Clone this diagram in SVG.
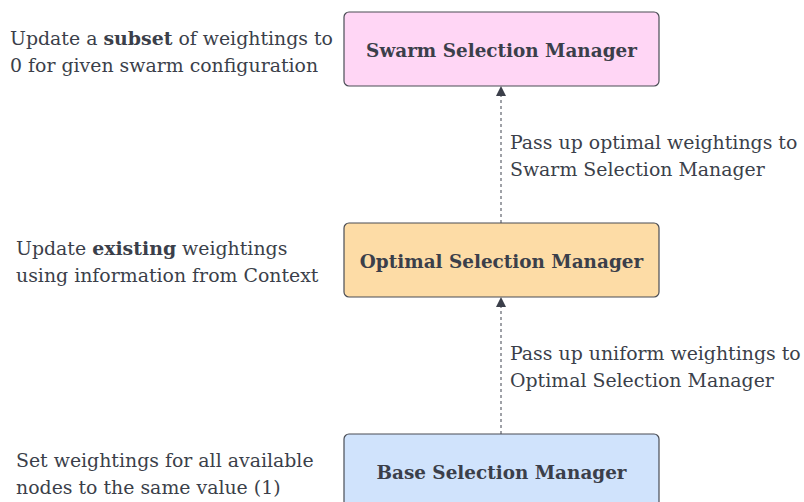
<svg xmlns="http://www.w3.org/2000/svg" width="804" height="502" viewBox="0 0 804 502">
  <style>
    text { font-family: "DejaVu Serif", "Liberation Serif", serif; fill: #3b3f4a; }
    .note { font-size: 18.9px; }
    .title { font-size: 18.4px; font-weight: bold; text-anchor: middle; }
    .box { stroke: #4a4d55; stroke-width: 1.2; }
    .link { stroke: #80838a; stroke-width: 1.5; stroke-dasharray: 3 3; fill: none; }
  </style>
  <defs>
    <marker id="arrow" viewBox="0 0 10 10" refX="9" refY="5" markerWidth="10" markerHeight="10" markerUnits="userSpaceOnUse" orient="auto">
      <path d="M0,0 L10,5 L0,10 z" fill="#3b3f4a"/>
    </marker>
  </defs>
  <rect width="804" height="502" fill="#ffffff"/>

  <g id="connectors">
    <line class="link" x1="501" y1="223" x2="501" y2="87" marker-end="url(#arrow)"/>
    <line class="link" x1="501" y1="434" x2="501" y2="298" marker-end="url(#arrow)"/>
    <text class="note" x="510" y="149">Pass up optimal weightings to</text>
    <text class="note" x="510" y="176">Swarm Selection Manager</text>
    <text class="note" x="510" y="360">Pass up uniform weightings to</text>
    <text class="note" x="510" y="387">Optimal Selection Manager</text>
  </g>

  <g id="swarm">
    <rect class="box" x="344" y="12" width="315" height="74" rx="5" fill="#ffd6f5"/>
    <text class="title" x="501.5" y="57">Swarm Selection Manager</text>
    <text class="note" x="10" y="45">Update a <tspan font-weight="bold">subset</tspan> of weightings to</text>
    <text class="note" x="10" y="72">0 for given swarm configuration</text>
  </g>

  <g id="optimal">
    <rect class="box" x="344" y="223" width="315" height="74" rx="5" fill="#fddca6"/>
    <text class="title" x="501.5" y="268">Optimal Selection Manager</text>
    <text class="note" x="16" y="255">Update <tspan font-weight="bold">existing</tspan> weightings</text>
    <text class="note" x="16" y="282">using information from Context</text>
  </g>

  <g id="base">
    <rect class="box" x="344" y="434" width="315" height="74" rx="5" fill="#d0e3fc"/>
    <text class="title" x="501.5" y="479">Base Selection Manager</text>
    <text class="note" x="16" y="467">Set weightings for all available</text>
    <text class="note" x="16" y="494">nodes to the same value (1)</text>
  </g>
</svg>
